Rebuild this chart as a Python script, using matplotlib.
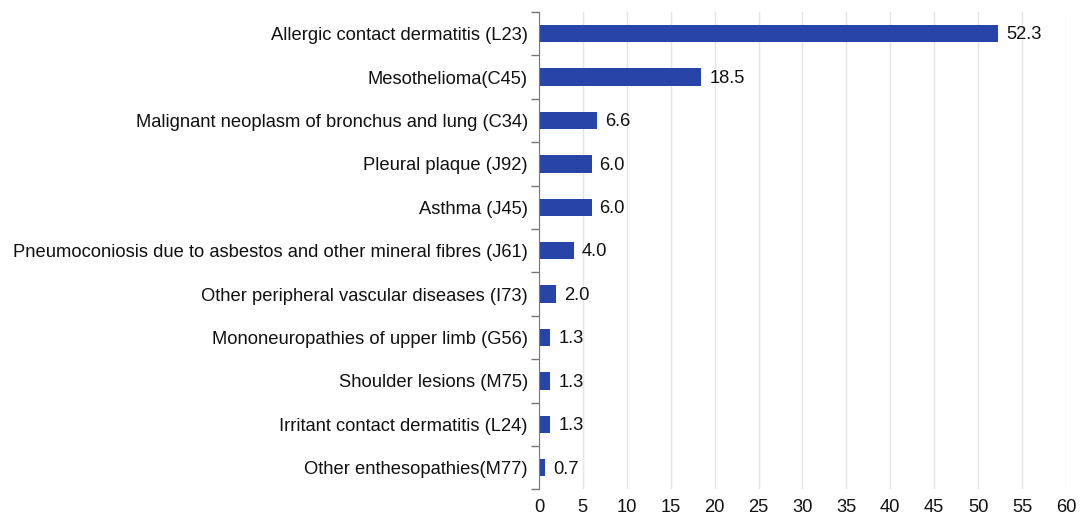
import matplotlib as mpl
mpl.use("Agg")
import matplotlib.pyplot as plt
import numpy as np

mpl.rcParams["font.family"] = ["Liberation Sans", "DejaVu Sans"]
mpl.rcParams["font.size"] = 13.2

labels = ["Allergic contact dermatitis (L23)",
          "Mesothelioma(C45)",
          "Malignant neoplasm of bronchus and lung (C34)",
          "Pleural plaque (J92)",
          "Asthma (J45)",
          "Pneumoconiosis due to asbestos and other mineral fibres (J61)",
          "Other peripheral vascular diseases (I73)",
          "Mononeuropathies of upper limb (G56)",
          "Shoulder lesions (M75)",
          "Irritant contact dermatitis (L24)",
          "Other enthesopathies(M77)"]
values = [52.3, 18.5, 6.6, 6.0, 6.0, 4.0, 2.0, 1.3, 1.3, 1.3, 0.7]

fig = plt.figure(figsize=(10.8, 5.19), dpi=100)
ax = fig.add_axes([0.499, 0.057, 0.488, 0.920])

y = np.arange(len(values))
ax.barh(y, values, height=0.4, color="#2744A8", zorder=3)
for yi, v in zip(y, values):
    ax.text(v + 0.9, yi + 0.03, "%.1f" % v, va="center", ha="left", color="#111111")

ax.set_ylim(len(values) - 0.5, -0.5)
ax.set_xlim(0, 60)
ax.set_xticks(np.arange(0, 61, 5))
ax.set_yticks(y)
ax.set_yticklabels(labels)
ax.set_yticks(np.arange(-0.5, len(values), 1), minor=True)
ax.tick_params(axis="y", which="major", length=0, pad=8, labelcolor="#111111")
ax.tick_params(axis="y", which="minor", length=6, color="#777777", width=1)
ax.tick_params(axis="x", length=0, pad=7, labelcolor="#111111")
ax.grid(axis="x", color="#e5e5e5", linewidth=1, zorder=0)

for s in ["top", "right", "bottom"]:
    ax.spines[s].set_visible(False)
ax.spines["left"].set_color("#777777")
ax.spines["left"].set_zorder(4)

fig.savefig("out.png", dpi=100)
